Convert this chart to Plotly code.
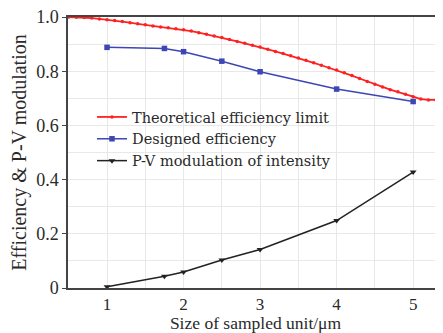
import plotly.graph_objects as go

# Theoretical efficiency limit (dense curve)
x_theory = [0.5, 0.6, 0.7, 0.8, 0.9, 1.0, 1.1, 1.2, 1.3, 1.4, 1.5, 1.6, 1.7, 1.8, 1.9,
            2.0, 2.1, 2.2, 2.3, 2.4, 2.5, 2.6, 2.7, 2.8, 2.9, 3.0, 3.1, 3.2, 3.3, 3.4,
            3.5, 3.6, 3.7, 3.8, 3.9, 4.0, 4.1, 4.2, 4.3, 4.4, 4.5, 4.6, 4.7, 4.8, 4.9,
            5.0, 5.1, 5.2, 5.3, 5.4]
y_theory = [1.000, 0.999, 0.998, 0.996, 0.993, 0.990, 0.987, 0.983, 0.979, 0.975,
            0.971, 0.967, 0.963, 0.960, 0.957, 0.953, 0.948, 0.942, 0.936, 0.930,
            0.924, 0.917, 0.910, 0.903, 0.896, 0.889, 0.881, 0.873, 0.865, 0.857,
            0.849, 0.840, 0.831, 0.822, 0.813, 0.804, 0.794, 0.784, 0.773, 0.762,
            0.752, 0.742, 0.732, 0.724, 0.715, 0.706, 0.697, 0.694, 0.694, 0.697]

# Designed efficiency
x_design = [1.0, 1.75, 2.0, 2.5, 3.0, 4.0, 5.0]
y_design = [0.888, 0.884, 0.872, 0.837, 0.798, 0.734, 0.688]

# P-V modulation of intensity
x_pv = [1.0, 1.75, 2.0, 2.5, 3.0, 4.0, 5.0]
y_pv = [0.005, 0.043, 0.059, 0.103, 0.142, 0.249, 0.428]

x_ticks = [1, 2, 3, 4, 5]
y_ticks = [0, 0.2, 0.4, 0.6, 0.8, 1.0]
y_tick_text = ["0", "0.2", "0.4", "0.6", "0.8", "1.0"]

serif = "Liberation Serif"
text_color = "#2a2a2a"

fig = go.Figure()
fig.add_trace(go.Scatter(x=x_theory, y=y_theory, mode="lines+markers",
                         name="Theoretical efficiency limit",
                         line=dict(color="#ff2020", width=1.8),
                         marker=dict(color="#ff2020", size=3.5)))
fig.add_trace(go.Scatter(x=x_design, y=y_design, mode="lines+markers",
                         name="Designed efficiency",
                         line=dict(color="#3c46b4", width=1.5),
                         marker=dict(color="#3c46b4", size=5.5, symbol="square")))
fig.add_trace(go.Scatter(x=x_pv, y=y_pv, mode="lines+markers",
                         name="P-V modulation of intensity",
                         line=dict(color="#222222", width=1.5),
                         marker=dict(color="#222222", size=6, symbol="triangle-down")))

# the page adds an 8px body margin, so the figure is 8px smaller than the window
fig.update_layout(
    width=435, height=325,
    margin=dict(l=60, r=0, t=9, b=45),
    paper_bgcolor="white", plot_bgcolor="white",
    font=dict(family=serif, size=16, color=text_color),
    showlegend=True,
    legend=dict(x=0.064, y=0.69, xanchor="left", yanchor="top",
                bgcolor="rgba(255,255,255,0)",
                font=dict(family="DejaVu Serif", size=14.5, color=text_color),
                itemwidth=30, tracegroupgap=0),
    xaxis=dict(range=[0.49, 5.39], tickvals=x_ticks, ticks="",
               automargin=False, ticklabeloverflow="allow",
               showline=True, linecolor="#444444", linewidth=1.5, mirror=True,
               showgrid=True, gridcolor="#e8e8e8", zeroline=False,
               minor=dict(showgrid=True, gridcolor="#e8e8e8", dtick=0.5),
               title=dict(text="Size of sampled unit/μm", font=dict(family=serif, size=17.5), standoff=8),
               tickfont=dict(family=serif, size=17)),
    yaxis=dict(range=[0, 1.0], tickvals=y_ticks, ticktext=y_tick_text, ticks="outside", ticklen=4,
               tickcolor="#444444", automargin=False, ticklabeloverflow="allow",
               showline=True, linecolor="#444444", linewidth=1.5, mirror=False,
               showgrid=True, gridcolor="#e8e8e8", zeroline=False,
               minor=dict(showgrid=True, gridcolor="#e8e8e8", dtick=0.1),
               title=dict(text="Efficiency & P-V modulation", font=dict(family=serif, size=20), standoff=5),
               tickfont=dict(family=serif, size=18)),
)

fig.write_html("out.html")
